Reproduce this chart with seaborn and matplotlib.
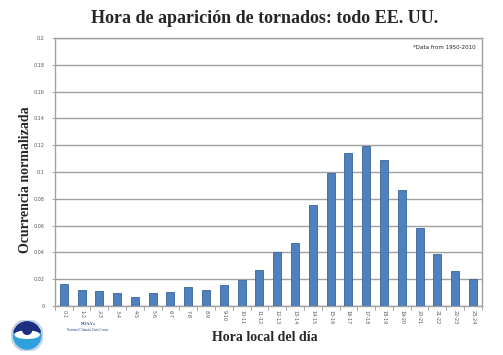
import numpy as np
import pandas as pd
import matplotlib
matplotlib.use("Agg")
import matplotlib.pyplot as plt
from matplotlib.patches import Circle, Wedge, Ellipse
import seaborn as sns

# data
hours = ['0-1', '1-2', '2-3', '3-4', '4-5', '5-6', '6-7', '7-8', '8-9', '9-10',
         '10-11', '11-12', '12-13', '13-14', '14-15', '15-16', '16-17', '17-18',
         '18-19', '19-20', '20-21', '21-22', '22-23', '23-24']
occurrence = [0.0163, 0.0122, 0.0110, 0.0097, 0.0070, 0.0097, 0.0105, 0.0140,
              0.0122, 0.0160, 0.0195, 0.0270, 0.0400, 0.0470, 0.0755, 0.0995,
              0.1140, 0.1195, 0.1090, 0.0865, 0.0580, 0.0390, 0.0260, 0.0205]
y_ticks = [0, 0.02, 0.04, 0.06, 0.08, 0.1, 0.12, 0.14, 0.16, 0.18, 0.2]
y_tick_labels = ['0', '0.02', '0.04', '0.06', '0.08', '0.1', '0.12', '0.14',
                 '0.16', '0.18', '0.2']

df = pd.DataFrame({'hora': hours, 'ocurrencia': occurrence})

sns.set_style('white')
plt.rcParams['font.family'] = ['DejaVu Sans']
serif = ['Liberation Serif', 'DejaVu Serif']

fig = plt.figure(figsize=(5.03, 3.55), dpi=100)
ax = fig.add_axes([0.109, 0.138, 0.849, 0.755])

sns.barplot(data=df, x='hora', y='ocurrencia', color='#4f81bd',
            saturation=1, width=0.45, edgecolor='#3a6499', linewidth=0.6, ax=ax,
            zorder=3)

ax.set_ylim(0, 0.2)
ax.set_xlim(-0.5, len(hours) - 0.5)
ax.set_yticks(y_ticks)
ax.set_yticklabels(y_tick_labels, fontsize=3.5, color='#555555')
ax.set_xticks(range(len(hours)))
ax.set_xticklabels(hours, rotation=270, fontsize=3.5, color='#555555')
ax.tick_params(axis='x', length=0, pad=3)
ax.tick_params(axis='y', length=2.5, width=0.6, color='#999999', pad=5, left=True)

# category separator ticks under the axis
for i in range(len(hours) + 1):
    ax.plot([i - 0.5, i - 0.5], [0, -0.003], color='#999999', lw=0.6,
            clip_on=False)

ax.yaxis.grid(True, color='#a0a0a0', lw=1.0, zorder=0)
for side in ['left', 'right', 'top', 'bottom']:
    ax.spines[side].set_color('#a0a0a0')
    ax.spines[side].set_linewidth(1.0)

ax.set_xlabel('')
ax.set_ylabel('')

ax.text(0.985, 0.975, '*Data from 1950-2010', transform=ax.transAxes,
        ha='right', va='top', fontsize=4, color='#222222')

fig.text(0.525, 0.948, 'Hora de aparición de tornados: todo EE. UU.',
         ha='center', va='center', fontsize=13, fontweight='bold',
         family=serif)
fig.text(0.05, 0.495, 'Ocurrencia normalizada', rotation=90, ha='center',
         va='center', fontsize=10, fontweight='bold', family=serif)
fig.text(0.527, 0.048, 'Hora local del día', ha='center', va='center',
         fontsize=10, fontweight='bold', family=serif)

# NOAA logo
lax = fig.add_axes([0.022, 0.01, 0.064, 0.09])
lax.set_xlim(-1, 1)
lax.set_ylim(-1, 1)
lax.set_aspect('equal')
lax.axis('off')
lax.add_patch(Circle((0, 0), 1, color='#c8d4e6'))
lax.add_patch(Circle((0, 0), 0.85, color='#2fa0dc'))
lax.add_patch(Wedge((0, 0), 0.85, 15, 165, color='#1c2f80'))
lax.add_patch(Ellipse((0, 0.05), 1.5, 0.45, color='white'))
lax.add_patch(Circle((0, 0.35), 0.28, color='#1c2f80'))

fig.text(0.175, 0.088, "NOAA's", ha='center', va='center', fontsize=3,
         color='#2a3f8f', fontweight='bold', family=serif)
fig.text(0.175, 0.071, 'National Climatic Data Center', ha='center',
         va='center', fontsize=2.4, color='#2a3f8f', family=serif)

fig.savefig('out.png', dpi=100)
